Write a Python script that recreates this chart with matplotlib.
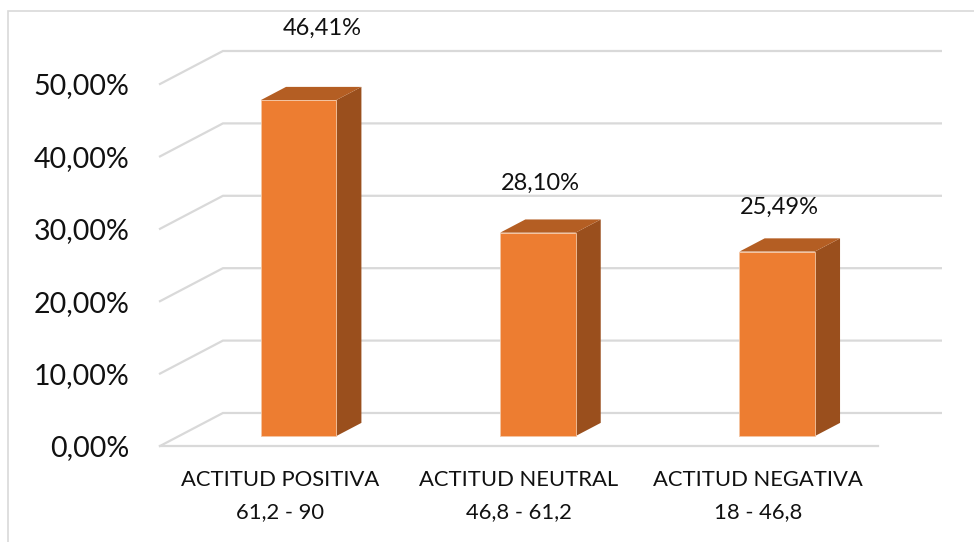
import matplotlib
matplotlib.use("Agg")
import matplotlib.pyplot as plt
from matplotlib.patches import Polygon, Rectangle

# --- data ---
categories = ["ACTITUD POSITIVA\n61,2 - 90", "ACTITUD NEUTRAL\n46,8 - 61,2", "ACTITUD NEGATIVA\n18 - 46,8"]
values = [46.41, 28.10, 25.49]
value_labels = ["46,41%", "28,10%", "25,49%"]
yticks = [0, 10, 20, 30, 40, 50]
ytick_labels = ["0,00%", "10,00%", "20,00%", "30,00%", "40,00%", "50,00%"]

# label placement (category units / percent points above bar)
lbl_dx = [0.18, 0.09, 0.09]
lbl_dy = [11.3, 8.2, 7.5]

# --- 3D look ---
DX, DY = 0.263, 4.56      # depth offset of the back wall
F0, F1 = 0.30, 0.70       # bar front / back depth fraction
BW = 0.315                # bar width
FRONT, TOP, SIDE = "#ED7D31", "#B45E23", "#9A4F1D"
GRID = "#D9D9D9"

plt.rcParams["font.family"] = ["Lato", "DejaVu Sans"]

W, H = 974, 542
fig = plt.figure(figsize=(W / 100, H / 100), dpi=100)
fig.patches.append(Rectangle((8 / W, -0.1), 1.1, (H - 11) / H + 0.1, transform=fig.transFigure,
                             fill=False, edgecolor=GRID, linewidth=1.2))

ax = fig.add_axes([160 / W, 96 / H, (944 - 160) / W, (446 - 30) / H])
ax.set_xlim(-0.5, 2.776)
ax.set_ylim(0, 57.46)
for s in ax.spines.values():
    s.set_visible(False)

# gridlines: back wall + left diagonal
for t in yticks:
    ax.plot([-0.5, -0.5 + DX, 2.5 + DX], [t, t + DY, t + DY], color=GRID, lw=1.6,
            clip_on=False, zorder=1, solid_joinstyle="miter")
# front edge of floor
ax.plot([-0.5, 2.5], [0, 0], color=GRID, lw=1.6, clip_on=False, zorder=1)

# bars
for i, v in enumerate(values):
    x0 = i + F0 * DX - BW / 2
    x1 = x0 + BW
    y0 = F0 * DY
    ddx, ddy = (F1 - F0) * DX, (F1 - F0) * DY
    front = [(x0, y0), (x1, y0), (x1, y0 + v), (x0, y0 + v)]
    side = [(x1, y0), (x1 + ddx, y0 + ddy), (x1 + ddx, y0 + v + ddy), (x1, y0 + v)]
    top = [(x0, y0 + v), (x1, y0 + v), (x1 + ddx, y0 + v + ddy), (x0 + ddx, y0 + v + ddy)]
    ax.add_patch(Polygon(side, closed=True, facecolor=SIDE, edgecolor="none", zorder=3))
    ax.add_patch(Polygon(top, closed=True, facecolor=TOP, edgecolor="none", zorder=3))
    ax.add_patch(Polygon(front, closed=True, facecolor=FRONT, edgecolor="#F4C6A4", lw=0.6, zorder=4))
    ax.text(i + lbl_dx[i], v + lbl_dy[i], value_labels[i], ha="center", va="center",
            fontsize=17, color="#111111", clip_on=False)

ax.set_yticks(yticks)
ax.set_yticklabels(ytick_labels, fontsize=20.5, color="#111111")
ax.set_xticks(range(len(categories)))
ax.set_xticklabels(categories, fontsize=15.8, color="#111111", linespacing=1.8)
ax.tick_params(axis="y", length=0, pad=22)
ax.tick_params(axis="x", length=0, pad=17)

fig.savefig("out.png", dpi=100)
